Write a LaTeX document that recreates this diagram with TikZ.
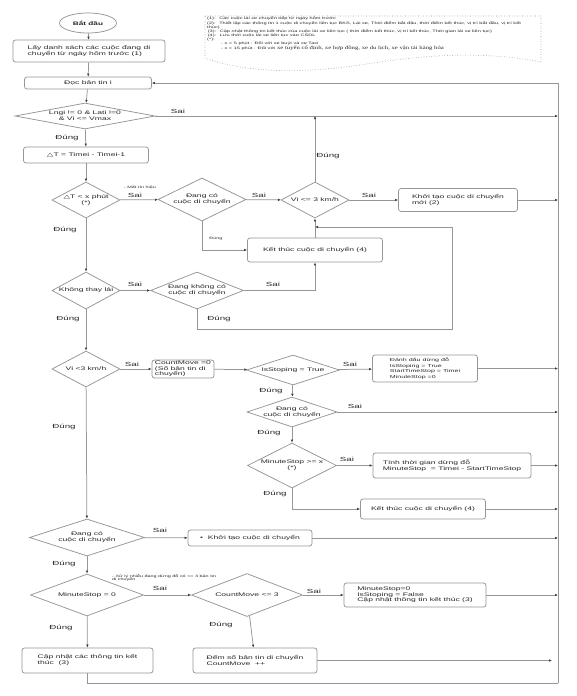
\documentclass[tikz,border=0pt]{standalone}
\usepackage{fontspec}
\setmainfont{Liberation Sans}[FakeStretch=1.65]
\newfontfamily\serifnote{Liberation Serif}[FakeStretch=1.4]
\newfontfamily\symfont{DejaVu Sans}[FakeStretch=1.65]
\usetikzlibrary{shapes.geometric,arrows.meta}
\definecolor{lncol}{RGB}{150,150,150}
\definecolor{txtcol}{RGB}{40,40,40}
\tikzset{
 ln/.style={draw=lncol, line width=0.75pt},
 arr/.style={ln, -{Latex[length=3pt,width=2.6pt,color=black!75]}},
 box/.style 2 args={rectangle, rounded corners=2.5pt, draw=lncol, line width=0.75pt, fill=white, text=txtcol, font=\fontsize{5.2}{6}\selectfont, inner sep=1.5pt, align=left, minimum width=#1pt, minimum height=#2pt},
 dia/.style 2 args={diamond, draw=lncol, line width=0.75pt, fill=white, inner sep=0pt, minimum width=#1pt, minimum height=#2pt},
 dtxt/.style={font=\fontsize{5.2}{6}\selectfont, text=txtcol, align=center, inner sep=0pt},
 lbl/.style={font=\fontsize{5.9}{7}\selectfont, text=txtcol, inner sep=0pt},
 tinytxt/.style={font=\fontsize{3.3}{3.9}\selectfont, text=txtcol, inner sep=0pt, align=left},
}
\begin{document}
\begin{tikzpicture}[x=1pt,y=-1pt]
\fill[white] (0,0) rectangle (576,696);
\useasboundingbox (0,0) rectangle (576,696);

% note
\draw[lncol, dotted, line width=0.6pt] (205,16) -- (541,16) -- (541,62) .. controls (480,50) and (420,56) .. (373,63) .. controls (330,70) and (260,78) .. (205,58) -- cycle;
\node[anchor=north west, font=\fontsize{3.4}{4.1}\selectfont, text=txtcol, align=left, inner sep=0pt] (notetxt) at (207,17) {(1):~ Các cuộc lái xe chuyển tiếp từ ngày hôm trước\\(2):~ Thiết lập các thông tin 1 cuộc di chuyển liên tục BKS, Lái xe, Thời điểm bắt đầu, thời điểm kết thúc, vị trí bắt đầu, vị trí kết\\thúc)\\\,(3):~ Cập nhật thông tin kết thúc của cuộc lái xe liên tục ( thời điểm kết thúc, vị trí kết thúc, Thời gian lái xe liên tục)\\\,(4):~ Lưu thời cuộc lái xe liên tục vào CSDL\\(*):\\\hspace{14pt}- x = 5 phút : Đối với xe buýt và xe Taxi\\\hspace{14pt}- x = 15 phút : Đối với {\serifnote\fontsize{4.8}{5}\selectfont xe tuyến cố định, xe hợp đồng, xe du lịch, xe vận tải hàng hóa}};

% nodes
\node[ellipse, draw=lncol, line width=0.75pt, fill=white, minimum width=57pt, minimum height=20pt, inner sep=0pt, text=txtcol, font=\fontsize{5}{6}\selectfont\bfseries] (start) at (88,23) {Bắt đầu};
\node[box={152}{22}] (b1) at (89,51) {Lấy danh sách các cuộc đang di\\chuyển từ ngày hôm trước (1)};
\node[box={127}{12}] (b2) at (88,83) {Đọc bản tin i};
\node[dia={140}{26}] (d1) at (85,116) {};
\node[dtxt] (d1t) at (d1) {Lngi != 0 \& Lati !=0\\\& Vi <= Vmax};
\node[box={125}{16}] (b3) at (86,155) {{\symfont △}T = Timei - Timei-1};
\node[dia={68}{36}] (d2) at (86,200) {};
\node[dtxt] (d2t) at (d2) {{\symfont △}T < x phút\\(*)};
\node[dia={88}{43}] (d3) at (202,199.5) {};
\node[dtxt] (d3t) at (d3) {Đang có\\cuộc di chuyển};
\node[dia={68}{36}] (d4) at (315,200) {};
\node[dtxt] (d4t) at (d4) {Vi <= 3 km/h};
\node[box={119}{23}] (b4) at (458,200) {Khởi tạo cuộc di chuyển\\mới (2)};
\node[box={135}{24}] (b5) at (315,250) {Kết thúc cuộc di chuyển (4)};
\node[dia={68}{37}] (d5) at (86,290.5) {};
\node[dtxt] (d5t) at (d5) {Không thay lái};
\node[dia={93}{37}] (d6) at (197,290.5) {};
\node[dtxt] (d6t) at (d6) {Đang không có\\cuộc di chuyển};
\node[dia={68}{36}] (d7) at (86,369) {};
\node[dtxt] (d7t) at (d7) {Vi <3 km/h};
\node[box={62}{18}, font=\fontsize{5.2}{5.6}\selectfont, inner sep=0.5pt] (b6) at (183,369) {CountMove =0\\(Số bản tin di\\chuyển)};
\node[dia={93}{30}] (d8) at (293,370) {};
\node[dtxt] (d8t) at (d8) {IsStoping = True};
\node[box={105}{27}, font=\fontsize{4.3}{5.7}\selectfont, inner sep=0.5pt] (b7) at (425,368.5) {Đánh dấu dừng đỗ\\IsStoping = True\\StartTimeStop = Timei\\MinuteStop =0};
\node[dia={90}{30}] (d9) at (292,412) {};
\node[dtxt] (d9t) at (d9) {Đang có\\cuộc di chuyển};
\node[dia={89}{45}] (d10) at (292,465.5) {};
\node[dtxt] (d10t) at (d10) {MinuteStop >= x\\(*)};
\node[box={158}{25}] (b8) at (452,465.5) {Tính thời gian dừng đỗ\\MinuteStop~ = Timei - StartTimeStop};
\node[box={125}{20}] (b9) at (423,509) {Kết thúc cuộc di chuyển (4)};
\node[dia={115}{37}] (d11) at (87,537.5) {};
\node[dtxt] (d11t) at (d11) {Đang có\\cuộc di chuyển};
\node[box={124}{16}] (b10) at (250,538) {\textbullet~ Khởi tạo cuộc di chuyển};
\node[dia={113}{42}] (d12) at (87,595) {};
\node[dtxt] (d12t) at (d12) {MinuteStop = 0};
\node[dia={111}{43}] (d13) at (247,595) {};
\node[dtxt] (d13t) at (d13) {CountMove <= 3};
\node[box={142}{24}, font=\fontsize{5.2}{5.6}\selectfont] (b11) at (415,595) {MinuteStop=0\\IsStoping = False\\Cập nhật thông tin kết thúc (3)};
\node[box={131}{25}] (b12) at (87.5,660.5) {Cập nhật các thông tin kết\\thúc~ (3)};
\node[box={124}{25}] (b13) at (255,660.5) {Đếm số bản tin di chuyển\\CountMove~ ++};

% right bus
\coordinate (rtop) at (558,83);
\coordinate (rbot) at (558,683);

% connectors
\draw[arr] (start) -- (b1);
\draw[arr] (b1) -- (b2);
\draw[arr] (b2) -- (d1);
\draw[arr] (rbot) -- (rtop) -- (b2.east);
\draw[arr] (d1.east) -- (d1.east -| rtop);
\draw[arr] (d1) -- (b3);
\draw[arr] (b3) -- (d2);
\draw[arr] (d2) -- (d3);
\draw[arr] (d3) -- (d4);
\draw[arr] (d3.south) |- (b5.west);
\draw[arr] (d4.north) -- (d4.north |- d1.east);
\draw[arr] (d4) -- (b4);
\draw[arr] (b4.east) -- (b4.east -| rtop);
\draw[arr] (b5) -- (d4);
\draw[arr] (d2) -- (d5);
\draw[arr] (d5) -- (d6);
\draw[arr] (d6.east) -| (b5.south);
\coordinate (lp1) at (197,329);
\coordinate (lp2) at (452,329);
\coordinate (lp3) at (452,227);
\draw[arr] (d6.south) -- (lp1) -- (lp2) -- (lp3) -- (lp3 -| b5.north);
\draw[arr] (d5) -- (d7);
\draw[arr] (d7) -- (b6);
\draw[arr] (b6) -- (d8);
\draw[arr] (d8) -- (b7);
\draw[arr] (b7.east) -- (b7.east -| rtop);
\draw[arr] (d8) -- (d9);
\draw[arr] (d9.east) -- (d9.east -| rtop);
\draw[arr] (d9) -- (d10);
\draw[arr] (d10) -- (b8);
\draw[arr] (b8.east) -- (b8.east -| rtop);
\draw[arr] (d10.south) |- (b9.west);
\draw[arr] (b9.east) -- (b9.east -| rtop);
\draw[arr] (d7) -- (d11);
\draw[arr] (d11) -- (b10);
\draw[arr] (b10.east) -- (b10.east -| rtop);
\draw[arr] (d11) -- (d12);
\draw[arr] (d12) -- (d13);
\draw[arr] (d13) -- (b11);
\draw[arr] (b11.east) -- (b11.east -| rtop);
\draw[arr] (d12) -- (b12);
\draw[arr] (d13) -- (b13);
\coordinate (b13end) at (552,660.5);
\draw[arr] (b13.east) -- (b13end);
\draw[ln] (b12.south) |- (rbot);

% labels
\node[lbl] (l1) at (178,111) {Sai};
\node[lbl] (l2) at (67,138) {Đúng};
\node[tinytxt] (l3) at (140,187) {- Mất tín hiệu};
\node[lbl] (l4) at (135,195) {Sai};
\node[lbl] (l5) at (259,195) {Sai};
\node[tinytxt] (l6) at (216,239) {Đúng};
\node[lbl] (l7) at (328,156) {Đúng};
\node[lbl] (l8) at (369,195) {Sai};
\node[lbl] (l9) at (65,230) {Đúng};
\node[lbl] (l10) at (135,284) {Sai};
\node[lbl] (l11) at (273,284) {Sai};
\node[lbl] (l12) at (219,319) {Đúng};
\node[lbl] (l13) at (68,319) {Đúng};
\node[lbl] (l14) at (132,364) {Sai};
\node[lbl] (l15) at (64,427) {Đúng};
\node[lbl] (l16) at (350,364) {Sai};
\node[lbl] (l17) at (271,391) {Đúng};
\node[lbl] (l18) at (355,406) {Sai};
\node[lbl] (l19) at (269,433) {Đúng};
\node[lbl] (l20) at (347,459) {Sai};
\node[lbl] (l21) at (275,494) {Đúng};
\node[lbl] (l22) at (160,530) {Sai};
\node[lbl] (l23) at (64,564) {Đúng};
\node[tinytxt, anchor=north west] (l24) at (112,574) {- Xử lý nhiễu đang dừng đỗ có <= 3 bản tin\\di chuyển};
\node[lbl] (l25) at (160,588) {Sai};
\node[lbl] (l26) at (61,628) {Đúng};
\node[lbl] (l27) at (314,591) {Sai};
\node[lbl] (l28) at (221,625) {Đúng};
\end{tikzpicture}
\end{document}
